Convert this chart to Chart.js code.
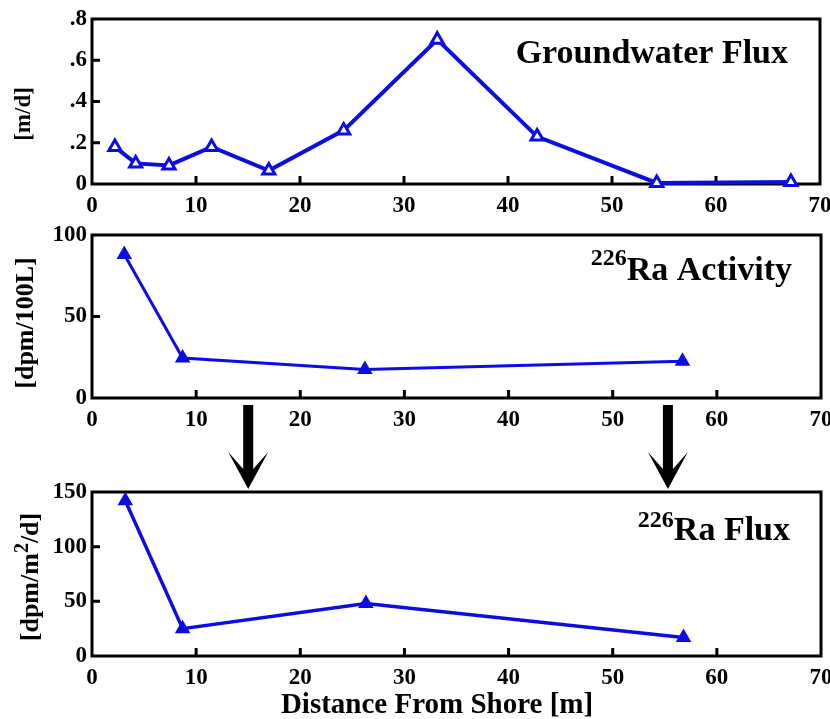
<!DOCTYPE html>
<html><head><meta charset="utf-8">
<script src="https://cdn.jsdelivr.net/npm/chart.js@4"></script>
<style>
body{margin:0;background:#fff;width:830px;height:719px;overflow:hidden;position:relative}
canvas{position:absolute;left:0;top:0}
</style></head>
<body>
<canvas id="c1" width="830" height="719"></canvas>
<canvas id="c2" width="830" height="719"></canvas>
<canvas id="c3" width="830" height="719"></canvas>
<script>
// ---- data ----
const xTicks = [0,10,20,30,40,50,60,70];
const gwDistance = [2.2,4.2,7.4,11.5,17,24.2,33.2,42.8,54.3,67.2];
const gwFlux = [0.18,0.10,0.09,0.18,0.065,0.26,0.70,0.23,0.005,0.01];
const gwTicks = [0,0.2,0.4,0.6,0.8];
const gwTickLabels = ['0','.2','.4','.6','.8'];
const raDistance = [3.1,8.7,26.2,56.7];
const raActivity = [88,24.5,17.5,22.5];
const actTicks = [0,50,100];
const actTickLabels = ['0','50','100'];
const fluxDistance = [3.2,8.7,26.3,56.8];
const raFlux = [142,25,48,17];
const fluxTicks = [0,50,100,150];
const fluxTickLabels = ['0','50','100','150'];
const arrowAt = [15, 55.3];

const BLUE = 'rgb(12,12,228)';
const FONT = 'Liberation Serif, Times New Roman, serif';

function drawRuns(ctx, runs, x, y, align, rotate) {
  ctx.save();
  ctx.translate(x, y);
  if (rotate) ctx.rotate(-Math.PI/2);
  ctx.fillStyle = '#000';
  ctx.textBaseline = 'alphabetic';
  let total = 0;
  runs.forEach(r => { ctx.font = 'bold ' + r.size + 'px ' + FONT; r.w = ctx.measureText(r.t).width; total += r.w; });
  let cx = align === 'right' ? -total : (align === 'center' ? -total/2 : 0);
  runs.forEach(r => { ctx.font = 'bold ' + r.size + 'px ' + FONT; ctx.textAlign = 'left'; ctx.fillText(r.t, cx, -(r.rise||0)); cx += r.w; });
  ctx.restore();
}

const decor = {
  id: 'decor',
  beforeDatasetsDraw(chart, args, o) {
    const {ctx, chartArea: a} = chart;
    const xs = chart.scales.x, ys = chart.scales.y;
    ctx.save();
    ctx.strokeStyle = '#000';
    ctx.lineWidth = 3;
    ctx.strokeRect(a.left, a.top, a.right - a.left, a.bottom - a.top);
    ctx.beginPath();
    xTicks.slice(1, -1).forEach(v => {
      const px = xs.getPixelForValue(v);
      ctx.moveTo(px, a.bottom); ctx.lineTo(px, a.bottom - 8);
    });
    o.yTicks.slice(1, -1).forEach(v => {
      const py = ys.getPixelForValue(v);
      ctx.moveTo(a.left, py); ctx.lineTo(a.left + 8, py);
    });
    ctx.stroke();
    ctx.restore();
  },
  afterDraw(chart, args, o) {
    const {ctx} = chart;
    drawRuns(ctx, o.title, o.titleX, o.titleY, 'right', false);
    drawRuns(ctx, o.yTitle, o.yTitleX, o.yTitleY, 'center', true);
    if (o.xTitle) drawRuns(ctx, o.xTitle, 437, 713, 'center', false);
    if (o.arrows) {
      const xs = chart.scales.x;
      ctx.save();
      ctx.fillStyle = '#000';
      o.arrows.forEach(v => {
        const cx = xs.getPixelForValue(v);
        const top = 405, tip = chart.chartArea.top - 3;
        ctx.beginPath();
        ctx.moveTo(cx - 5, top);
        ctx.lineTo(cx + 5, top);
        ctx.lineTo(cx + 5, tip - 20);
        ctx.lineTo(cx + 20, tip - 37);
        ctx.lineTo(cx, tip);
        ctx.lineTo(cx - 20, tip - 37);
        ctx.lineTo(cx - 5, tip - 20);
        ctx.closePath();
        ctx.fill();
      });
      ctx.restore();
    }
  }
};

function makeChart(id, c) {
  const xh = 50;
  return new Chart(document.getElementById(id), {
    type: 'line',
    data: { datasets: [{
      data: c.x.map((v, i) => ({x: v, y: c.y[i]})),
      borderColor: BLUE, borderWidth: c.lw, tension: 0, clip: false,
      pointStyle: 'triangle', pointRadius: c.pr, pointBorderWidth: c.pbw,
      pointBackgroundColor: c.fill, pointBorderColor: BLUE
    }]},
    options: {
      responsive: false, animation: false, events: [],
      layout: { padding: { top: c.top, left: 0, right: 9, bottom: 719 - c.bottom - xh } },
      plugins: { legend: {display: false}, tooltip: {enabled: false}, decor: c.decor },
      scales: {
        x: {
          type: 'linear', min: 0, max: 70,
          grid: {display: false, drawTicks: false}, border: {display: false},
          ticks: { color: '#000', padding: 8, font: {family: FONT, size: 23, weight: 'bold'}, callback: v => String(v) },
          afterBuildTicks: s => { s.ticks = xTicks.map(v => ({value: v})); },
          afterFit: s => { s.height = xh; s.paddingLeft = 0; s.paddingRight = 0; }
        },
        y: {
          type: 'linear', min: 0, max: c.yTicks[c.yTicks.length - 1],
          grid: {display: false, drawTicks: false}, border: {display: false},
          ticks: { color: '#000', padding: 5, font: {family: FONT, size: 23, weight: 'bold'}, callback: (v, i) => c.yLabels[i] },
          afterBuildTicks: s => { s.ticks = c.yTicks.map(v => ({value: v})); },
          afterFit: s => { s.width = 92; s.paddingTop = 0; s.paddingBottom = 0; }
        }
      }
    },
    plugins: [decor]
  });
}

makeChart('c1', {
  x: gwDistance, y: gwFlux, yTicks: gwTicks, yLabels: gwTickLabels,
  top: 19, bottom: 184, lw: 4, pr: 7, pbw: 3, fill: '#fff',
  decor: { yTicks: gwTicks,
    title: [{t: 'Groundwater Flux', size: 34}], titleX: 788, titleY: 63,
    yTitle: [{t: '[m/d]', size: 23}], yTitleX: 30, yTitleY: 114 }
});
makeChart('c2', {
  x: raDistance, y: raActivity, yTicks: actTicks, yLabels: actTickLabels,
  top: 235, bottom: 398, lw: 3, pr: 7, pbw: 2, fill: BLUE,
  decor: { yTicks: actTicks,
    title: [{t: '226', size: 24, rise: 15}, {t: 'Ra Activity', size: 34}], titleX: 792, titleY: 280,
    yTitle: [{t: '[dpm/100L]', size: 26}], yTitleX: 33, yTitleY: 323 }
});
makeChart('c3', {
  x: fluxDistance, y: raFlux, yTicks: fluxTicks, yLabels: fluxTickLabels,
  top: 492, bottom: 656, lw: 3.5, pr: 7, pbw: 2, fill: BLUE,
  decor: { yTicks: fluxTicks,
    title: [{t: '226', size: 24, rise: 13}, {t: 'Ra Flux', size: 34}], titleX: 790, titleY: 540,
    yTitle: [{t: '[dpm/m', size: 26}, {t: '2', size: 20, rise: 10}, {t: '/d]', size: 26}], yTitleX: 38, yTitleY: 577,
    xTitle: [{t: 'Distance From Shore [m]', size: 29}], arrows: arrowAt }
});
</script>
</body></html>
